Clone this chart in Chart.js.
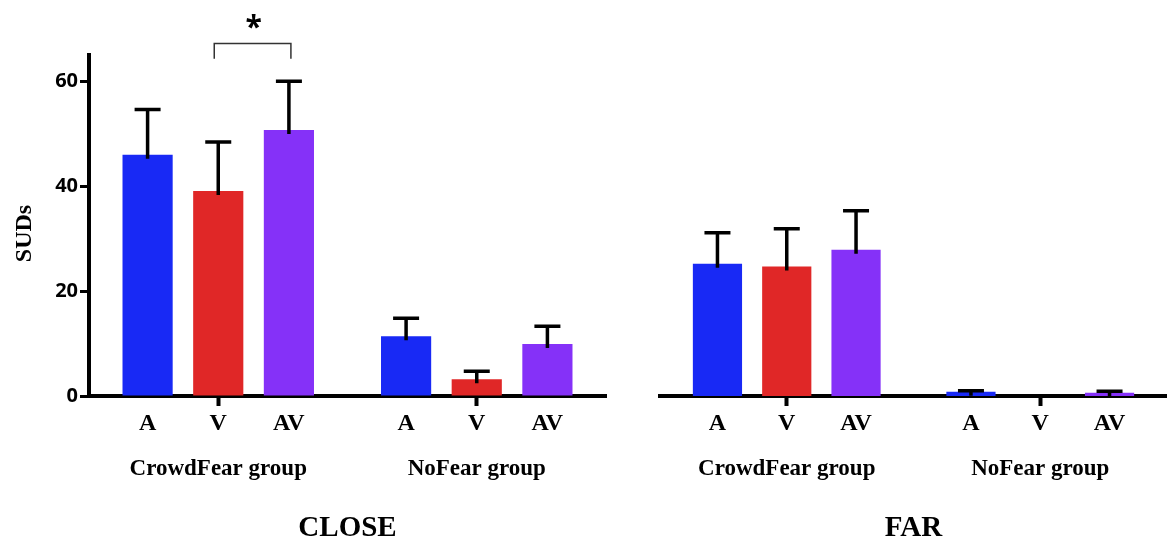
<!DOCTYPE html>
<html>
<head>
<meta charset="utf-8">
<script src="https://cdn.jsdelivr.net/npm/chart.js"></script>
<style>
  html, body { margin: 0; padding: 0; background: #fff; }
  #wrap { position: relative; width: 1167px; height: 543px; }
  #close { position: absolute; left: 0; top: 0; }
  #far { position: absolute; left: 615px; top: 0; }
</style>
</head>
<body>
<div id="wrap">
  <canvas id="close" width="615" height="543"></canvas>
  <canvas id="far" width="552" height="543"></canvas>
</div>
<script>
// groups on the x axis, conditions drawn as bars
const groups = ["CrowdFear group", "NoFear group"];
const conditions = ["A", "V", "AV"];
const yTicks = [0, 20, 40, 60];

// CLOSE means and SEM
const closeA = [46.0, 11.4];
const closeV = [39.1, 3.2];
const closeAV = [50.7, 9.9];
const closeAErr = [8.6, 3.4];
const closeVErr = [9.3, 1.5];
const closeAVErr = [9.3, 3.4];

// FAR means and SEM
const farA = [25.2, 0.8];
const farV = [24.7, 0.0];
const farAV = [27.9, 0.6];
const farAErr = [5.9, 0.2];
const farVErr = [7.2, 0.0];
const farAVErr = [7.4, 0.3];

const colors = ["#1829f5", "#e02727", "#8531f8"];
const serif = "'Liberation Serif', 'Times New Roman', serif";

const errorBars = {
  id: "errorBars",
  afterDatasetsDraw(chart) {
    const ctx = chart.ctx;
    const y = chart.scales.y;
    chart.data.datasets.forEach((ds, i) => {
      chart.getDatasetMeta(i).data.forEach((bar, j) => {
        const e = ds.errors[j];
        if (!e) return;
        const top = y.getPixelForValue(ds.data[j] + e);
        ctx.save();
        ctx.strokeStyle = "#000";
        ctx.lineWidth = 3.5;
        ctx.beginPath();
        ctx.moveTo(bar.x, bar.y + 4);
        ctx.lineTo(bar.x, top);
        ctx.moveTo(bar.x - 13, top);
        ctx.lineTo(bar.x + 13, top);
        ctx.stroke();
        ctx.restore();
      });
    });
  }
};

// A / V / AV under each bar
const condLabels = {
  id: "condLabels",
  afterDraw(chart) {
    const ctx = chart.ctx;
    const xs = chart.scales.x;
    ctx.save();
    ctx.fillStyle = "#000";
    ctx.font = "bold 24px " + serif;
    ctx.textAlign = "center";
    ctx.textBaseline = "middle";
    chart.data.datasets.forEach((ds, i) => {
      chart.getDatasetMeta(i).data.forEach(bar => {
        ctx.fillText(ds.label, bar.x, xs.top + 28);
      });
    });
    ctx.restore();
  }
};

// y axis title, drawn by hand so it can sit a little below centre
const yTitle = {
  id: "yTitle",
  afterDraw(chart) {
    const ctx = chart.ctx;
    const area = chart.chartArea;
    ctx.save();
    ctx.translate(25, (area.top + area.bottom) / 2 + 8);
    ctx.rotate(-Math.PI / 2);
    ctx.fillStyle = "#000";
    ctx.font = "bold 24px " + serif;
    ctx.textAlign = "center";
    ctx.textBaseline = "middle";
    ctx.fillText("SUDs", 0, 0);
    ctx.restore();
  }
};

// significance bracket between V and AV (CrowdFear, CLOSE)
const bracket = {
  id: "bracket",
  afterDraw(chart) {
    const ctx = chart.ctx;
    const y = chart.scales.y;
    const x1 = chart.getDatasetMeta(1).data[0].x;
    const x2 = chart.getDatasetMeta(2).data[0].x;
    const yTop = y.getPixelForValue(67.2);
    const yLeg = y.getPixelForValue(64.3);
    ctx.save();
    ctx.strokeStyle = "#333";
    ctx.lineWidth = 1.5;
    ctx.beginPath();
    ctx.moveTo(x1 - 4, yLeg);
    ctx.lineTo(x1 - 4, yTop);
    ctx.lineTo(x2 + 2, yTop);
    ctx.lineTo(x2 + 2, yLeg);
    ctx.stroke();
    ctx.fillStyle = "#000";
    ctx.font = "bold 30px 'Open Sans', sans-serif";
    ctx.textAlign = "center";
    ctx.textBaseline = "middle";
    ctx.fillText("*", (x1 + x2) / 2, y.getPixelForValue(70.0));
    ctx.restore();
  }
};

function makeDatasets(a, v, av, ae, ve, ave) {
  const vals = [a, v, av];
  const errs = [ae, ve, ave];
  return conditions.map((c, i) => ({
    label: c,
    data: vals[i],
    errors: errs[i],
    backgroundColor: colors[i],
    borderWidth: 0,
    barPercentage: 0.71,
    categoryPercentage: 0.82
  }));
}

function makeOptions(title, showY, padding) {
  return {
    responsive: false,
    animation: false,
    layout: { padding: padding },
    plugins: { legend: { display: false }, tooltip: { enabled: false } },
    scales: {
      x: {
        grid: { drawOnChartArea: false, drawTicks: true, tickLength: 10, tickWidth: 4, tickColor: "#000", offset: false },
        border: { display: true, color: "#000", width: 4 },
        ticks: { color: "#000", font: { family: serif, weight: "bold", size: 23 }, padding: 49 },
        title: { display: true, text: title, color: "#000", font: { family: serif, weight: "bold", size: 29, lineHeight: 1 }, padding: { top: 0, bottom: 0 } },
        afterFit: s => { s.height = 147; }
      },
      y: {
        display: showY,
        min: 0,
        max: 65,
        afterBuildTicks: s => { s.ticks = yTicks.map(v => ({ value: v })); },
        grid: { drawOnChartArea: false, tickLength: 9, tickWidth: 3, tickColor: "#000" },
        border: { color: "#000", width: 4 },
        ticks: { color: "#000", font: { family: "'Open Sans', sans-serif", weight: "bold", size: 20 }, padding: 2 },
        afterFit: s => { s.width = showY ? 89 : 0; }
      }
    }
  };
}

new Chart(document.getElementById("close"), {
  type: "bar",
  data: { labels: groups, datasets: makeDatasets(closeA, closeV, closeAV, closeAErr, closeVErr, closeAVErr) },
  options: makeOptions("CLOSE", true, { top: 55, right: 9, left: 0, bottom: 0 }),
  plugins: [errorBars, condLabels, bracket, yTitle]
});

new Chart(document.getElementById("far"), {
  type: "bar",
  data: { labels: groups, datasets: makeDatasets(farA, farV, farAV, farAErr, farVErr, farAVErr) },
  options: makeOptions("FAR", false, { top: 55, right: 0, left: 45, bottom: 0 }),
  plugins: [errorBars, condLabels]
});
</script>
</body>
</html>
